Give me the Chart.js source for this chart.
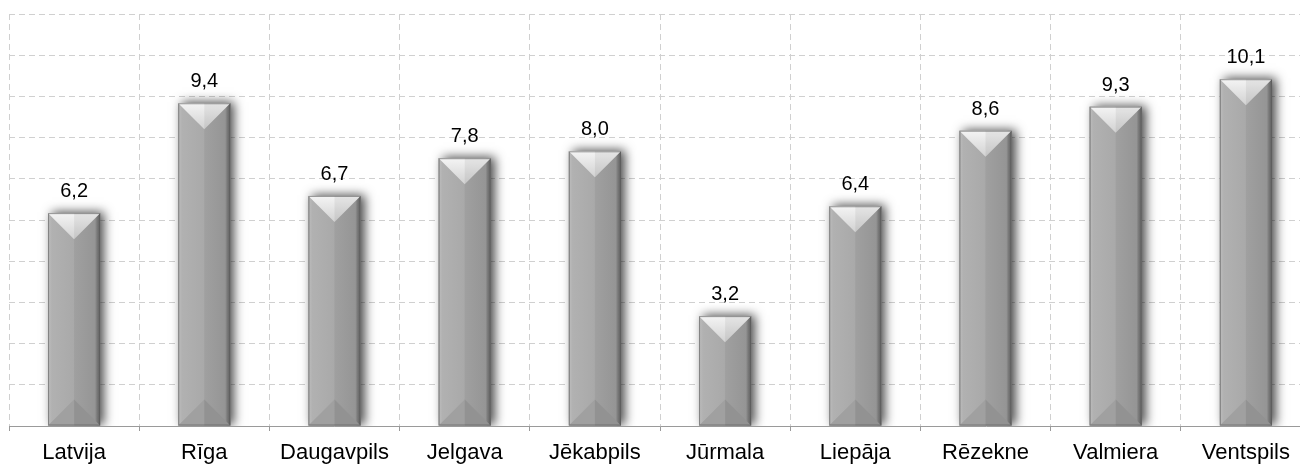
<!DOCTYPE html>
<html>
<head>
<meta charset="utf-8">
<script src="https://cdn.jsdelivr.net/npm/chart.js@4.4.1/dist/chart.umd.min.js"></script>
<style>
  html, body { margin: 0; padding: 0; background: #fff; overflow: hidden; }
  #wrap { width: 1311px; height: 466px; position: relative; }
</style>
</head>
<body>
<div id="wrap"><canvas id="myChart"></canvas></div>
<script>
'use strict';

// chart data
const categories = ['Latvija', 'Rīga', 'Daugavpils', 'Jelgava', 'Jēkabpils', 'Jūrmala', 'Liepāja', 'Rēzekne', 'Valmiera', 'Ventspils'];
const values = [6.2, 9.4, 6.7, 7.8, 8.0, 3.2, 6.4, 8.6, 9.3, 10.1];
const yMax = 12;
const yStep = 1.2;

const FONT = '"Liberation Sans", Arial, sans-serif';

function fmt(v) {
   return v.toFixed(1).replace('.', ',');
}

// shadow behind bars
const shadowPlugin = {
   id: 'barShadow',
   beforeDatasetsDraw(chart) {
      const ctx = chart.ctx;
      const meta = chart.getDatasetMeta(0);
      ctx.save();
      ctx.beginPath();
      ctx.rect(chart.chartArea.left, 0, chart.chartArea.right - chart.chartArea.left, chart.chartArea.bottom);
      ctx.clip();
      meta.data.forEach(function (bar) {
         const l = bar.x - bar.width / 2;
         ctx.shadowColor = 'rgba(0,0,0,0.7)';
         ctx.shadowBlur = 10;
         ctx.shadowOffsetX = 4;
         ctx.shadowOffsetY = -1;
         ctx.fillStyle = '#888';
         ctx.fillRect(l, bar.y, bar.width, bar.base - bar.y);
      });
      ctx.restore();
   }
};

// bevel look + value labels
const bevelPlugin = {
   id: 'bevel',
   afterDatasetsDraw(chart) {
      const ctx = chart.ctx;
      const meta = chart.getDatasetMeta(0);
      ctx.save();
      meta.data.forEach(function (bar, i) {
         const w = bar.width;
         const l = bar.x - w / 2;
         const r = bar.x + w / 2;
         const cx = bar.x;
         const top = bar.y;
         const base = bar.base;
         const d = w / 2;

         // left half
         let g = ctx.createLinearGradient(l, 0, cx, 0);
         g.addColorStop(0, '#bdbdbd');
         g.addColorStop(0.15, '#b1b1b1');
         g.addColorStop(1, '#a9a9a9');
         ctx.fillStyle = g;
         ctx.fillRect(l, top, w / 2, base - top);
         // right half
         g = ctx.createLinearGradient(cx, 0, r, 0);
         g.addColorStop(0, '#a0a0a0');
         g.addColorStop(0.8, '#959595');
         g.addColorStop(0.88, '#7a7a7a');
         g.addColorStop(1, '#5e5e5e');
         ctx.fillStyle = g;
         ctx.fillRect(cx, top, w / 2, base - top);

         // top facet
         g = ctx.createLinearGradient(0, top, 0, top + d);
         g.addColorStop(0, '#f4f4f4');
         g.addColorStop(1, '#d2d2d2');
         ctx.fillStyle = g;
         ctx.beginPath();
         ctx.moveTo(l, top);
         ctx.lineTo(r, top);
         ctx.lineTo(cx, top + d);
         ctx.closePath();
         ctx.fill();
         ctx.fillStyle = 'rgba(0,0,0,0.06)';
         ctx.beginPath();
         ctx.moveTo(cx, top);
         ctx.lineTo(r, top);
         ctx.lineTo(cx, top + d);
         ctx.closePath();
         ctx.fill();

         // bottom facet
         ctx.fillStyle = '#a0a0a0';
         ctx.beginPath();
         ctx.moveTo(l, base);
         ctx.lineTo(cx, base - d);
         ctx.lineTo(cx, base);
         ctx.closePath();
         ctx.fill();
         ctx.fillStyle = '#929292';
         ctx.beginPath();
         ctx.moveTo(cx, base);
         ctx.lineTo(cx, base - d);
         ctx.lineTo(r, base);
         ctx.closePath();
         ctx.fill();

         // outline
         ctx.strokeStyle = 'rgba(90,90,90,0.6)';
         ctx.lineWidth = 1;
         ctx.strokeRect(l + 0.5, top + 0.5, w - 1, base - top - 1);

         // value label
         ctx.fillStyle = '#000';
         ctx.font = '20px ' + FONT;
         ctx.textAlign = 'center';
         ctx.textBaseline = 'alphabetic';
         ctx.fillText(fmt(values[i]), cx, top - 16);
      });
      ctx.restore();
   }
};

const ctx = document.getElementById('myChart');
const myChart = new Chart(ctx, {
   type: 'bar',
   data: {
      labels: categories,
      datasets: [{
         data: values,
         backgroundColor: '#a6a6a6',
         borderWidth: 0,
         categoryPercentage: 1,
         barPercentage: 0.4
      }]
   },
   options: {
      responsive: true,
      maintainAspectRatio: false,
      animation: false,
      layout: { padding: { left: 9, right: 0, top: 14, bottom: 0 } },
      plugins: {
         legend: { display: false },
         tooltip: { enabled: false }
      },
      scales: {
         x: {
            grid: {
               offset: true,
               color: '#d0d0d0',
               tickColor: '#9a9a9a',
               tickLength: 5,
               tickBorderDash: []
            },
            border: { display: true, color: '#9a9a9a', width: 1, dash: [6, 4] },
            ticks: {
               color: '#000',
               padding: 9,
               maxRotation: 0,
               font: { family: FONT, size: 22 }
            },
            afterFit: function (scale) {
               scale.height = 40;
               scale.paddingLeft = 0;
               scale.paddingRight = 0;
            }
         },
         y: {
            min: 0,
            max: yMax,
            ticks: { display: false, stepSize: yStep },
            grid: { color: '#d0d0d0', drawTicks: false },
            border: { display: false, dash: [6, 4] }
         }
      }
   },
   plugins: [shadowPlugin, bevelPlugin]
});
</script>
</body>
</html>
